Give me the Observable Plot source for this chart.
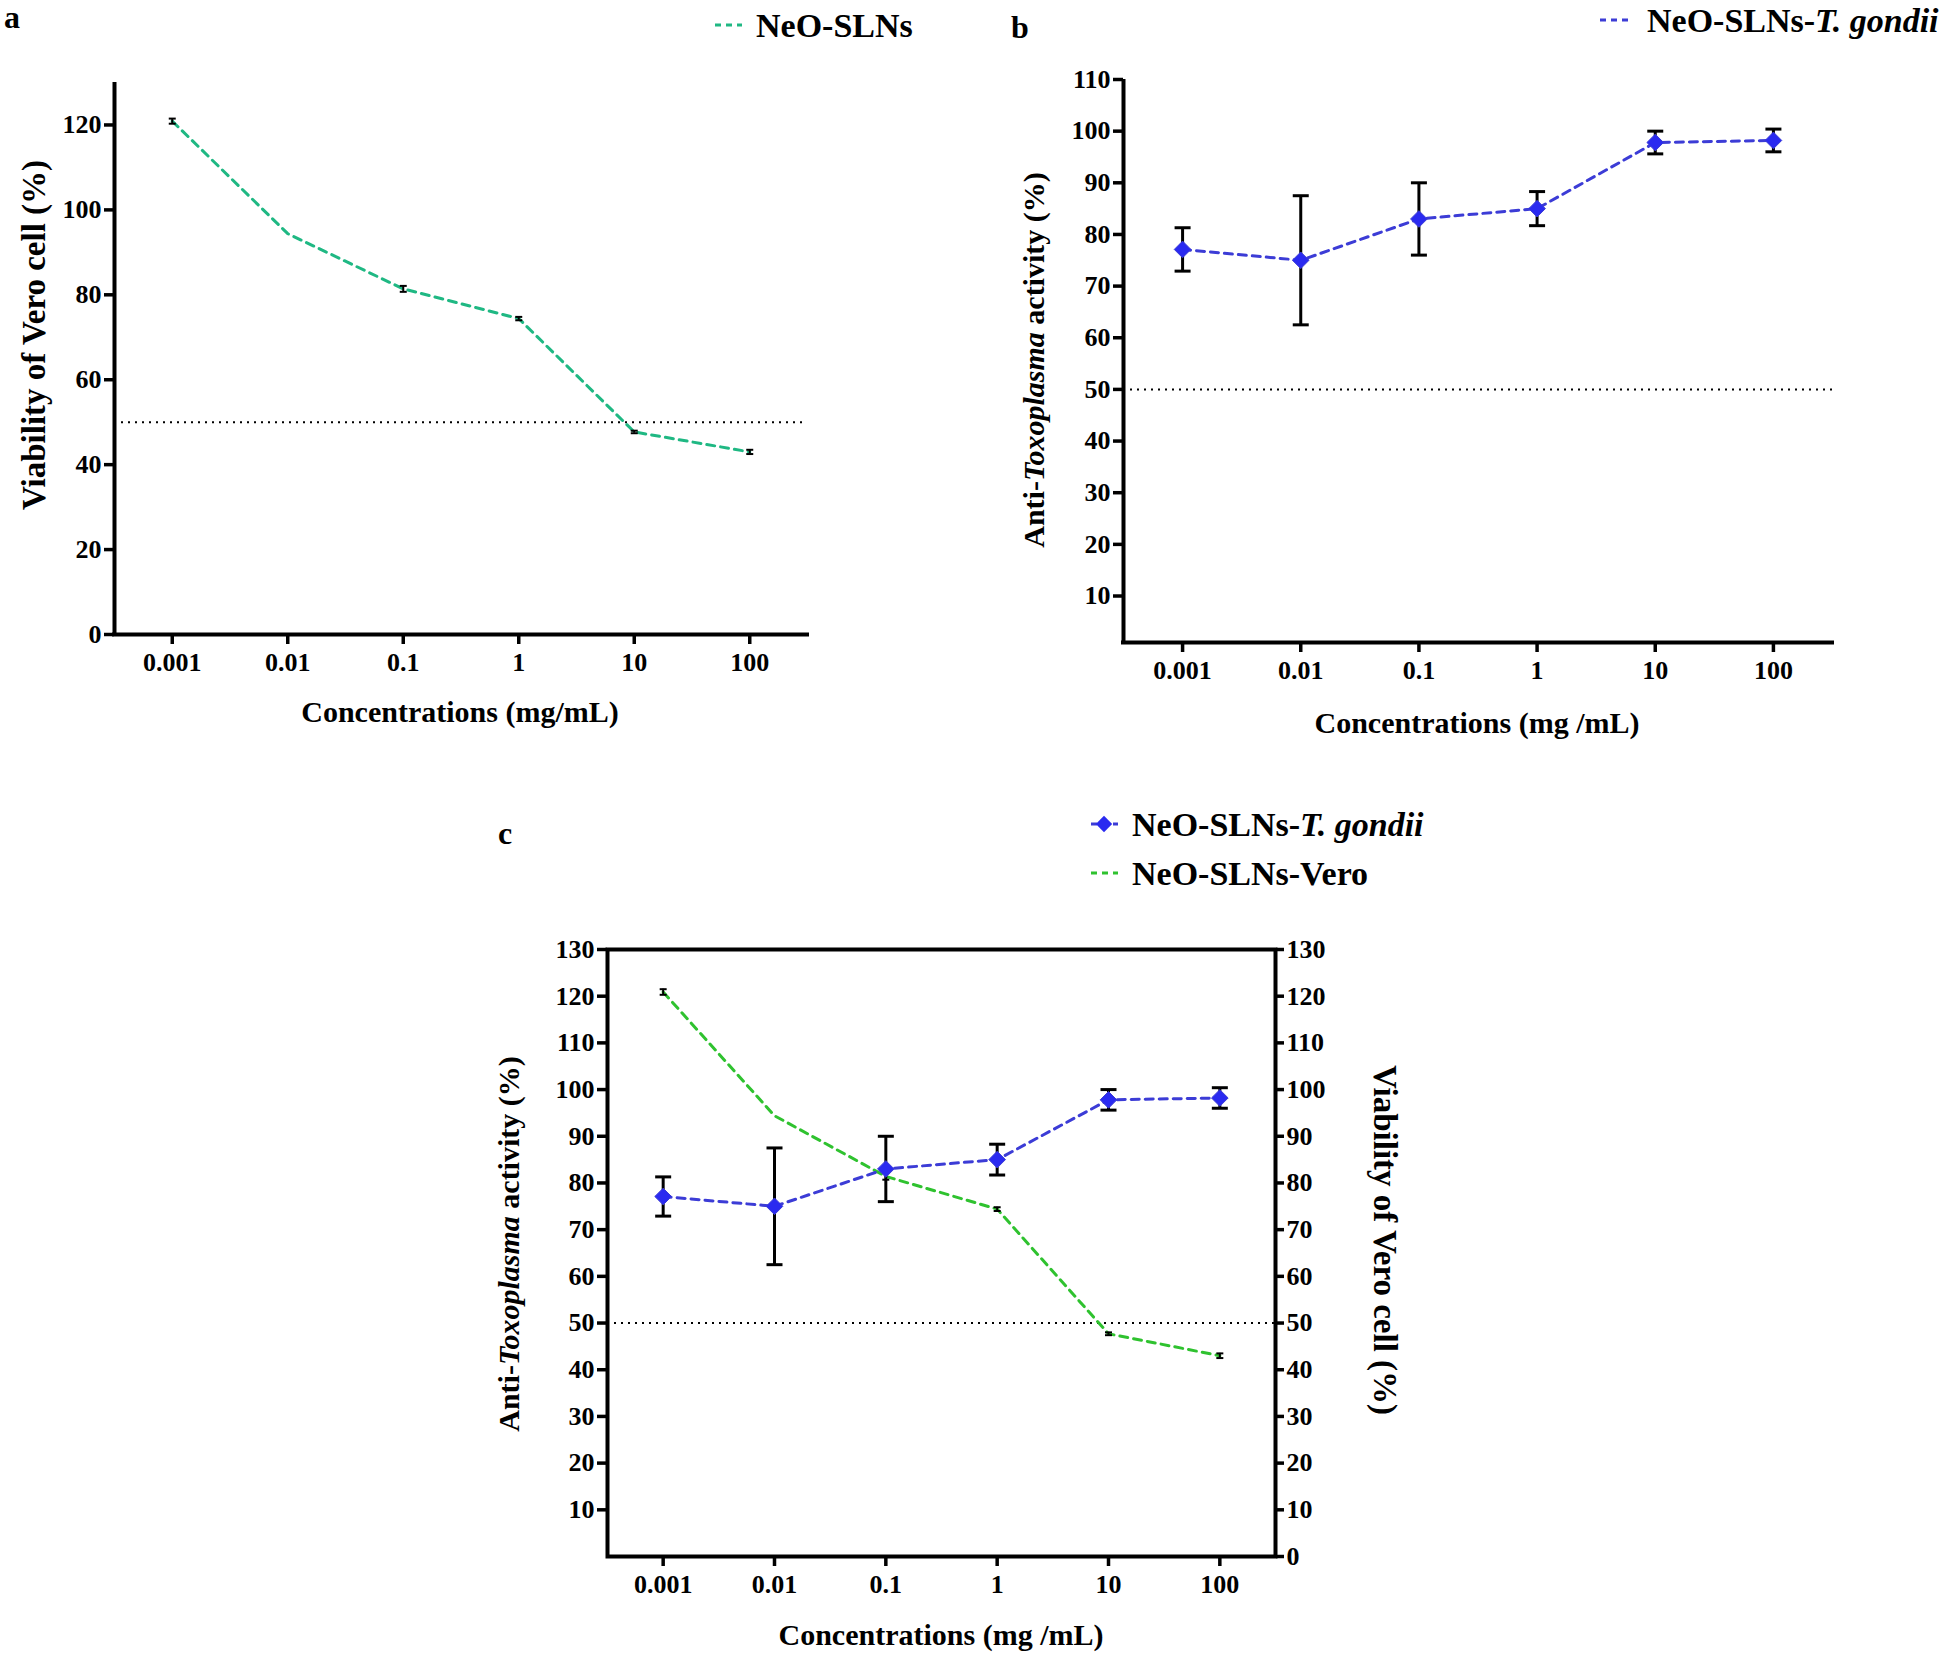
<!DOCTYPE html>
<html><head><meta charset="utf-8">
<script src="https://cdn.jsdelivr.net/npm/d3@7"></script>
<script src="https://cdn.jsdelivr.net/npm/@observablehq/plot@0.6"></script>
<style>
html,body{margin:0;padding:0;background:#fff;}
#root{position:relative;width:1944px;height:1656px;overflow:hidden;background:#fff;}
#root svg{position:absolute;left:0;top:0;}
</style></head><body><div id="root"></div>
<script>
// ---- data ----
const concentrations = [0.001, 0.01, 0.1, 1, 10, 100];
const concentrationLabels = ["0.001", "0.01", "0.1", "1", "10", "100"];
const veroViability = [120.9, 94.4, 81.4, 74.4, 47.7, 43.0];
const veroError = [0.6, 0, 0.7, 0.4, 0.3, 0.5];
const toxoActivity = [77.1, 75.0, 83.0, 85.0, 97.8, 98.2];
const toxoError = [4.2, 12.5, 7.0, 3.3, 2.2, 2.2];
const ticksA = [0, 20, 40, 60, 80, 100, 120];
const ticksB = [10, 20, 30, 40, 50, 60, 70, 80, 90, 100, 110];
const ticksCLeft = [10, 20, 30, 40, 50, 60, 70, 80, 90, 100, 110, 120, 130];
const ticksCRight = [0, 10, 20, 30, 40, 50, 60, 70, 80, 90, 100, 110, 120, 130];
const threshold = [50];
const xDomain = [Math.pow(10, -3.5), Math.pow(10, 2.5)];

const vero = concentrations.map((c, i) => ({conc: c, value: veroViability[i], err: veroError[i]}));
const toxo = concentrations.map((c, i) => ({conc: c, value: toxoActivity[i], err: toxoError[i]}));

const W = 1944, H = 1656;
const FONT = "Liberation Serif, Times New Roman, serif";
const TICK_FS = 26;
const capSymbol = {draw(ctx, size) { const w = Math.sqrt(size / Math.PI); ctx.moveTo(-w, 0); ctx.lineTo(w, 0); }};
const fmtX = d => concentrationLabels[concentrations.indexOf(d)];
const baseStyle = {fontFamily: FONT, fontWeight: "bold", color: "black", background: "transparent", maxWidth: "none", overflow: "visible"};

const GREEN_A = "#1fb883", GREEN_C = "#2fc22f", BLUE_LINE = "#3c3cd6", BLUE_DOT = "#2a2af0";

function xAxis() {
  return Plot.axisX({ticks: concentrations, tickFormat: fmtX, tickSize: 10, tickPadding: 8, strokeWidth: 3.5, fontSize: TICK_FS, label: null});
}
function errorMarks(rows, w, r) {
  const f = rows.filter(d => d.err > 0);
  return [
    Plot.ruleX(f, {x: "conc", y1: d => d.value - d.err, y2: d => d.value + d.err, stroke: "black", strokeWidth: w}),
    Plot.dot(f, {x: "conc", y: d => d.value + d.err, symbol: capSymbol, r, stroke: "black", strokeWidth: w, fill: "none"}),
    Plot.dot(f, {x: "conc", y: d => d.value - d.err, symbol: capSymbol, r, stroke: "black", strokeWidth: w, fill: "none"})
  ];
}

// ---- panel a ----
const plotA = Plot.plot({
  width: W, height: H,
  marginLeft: 114, marginRight: W - 807, marginTop: 82, marginBottom: H - 634,
  style: baseStyle,
  x: {type: "log", domain: xDomain},
  y: {domain: [0, 130]},
  marks: [
    Plot.ruleY(threshold, {stroke: "black", strokeWidth: 2, strokeDasharray: "2,5"}),
    Plot.line(vero, {x: "conc", y: "value", stroke: GREEN_A, strokeWidth: 3, strokeDasharray: "8,6"}),
    ...errorMarks(vero, 2, 3.5),
    Plot.ruleX([xDomain[0]], {stroke: "black", strokeWidth: 4}),
    Plot.ruleY([0], {stroke: "black", strokeWidth: 4, strokeLinecap: "square"}),
    Plot.axisY({ticks: ticksA, tickSize: 10, tickPadding: 3, strokeWidth: 3.5, fontSize: TICK_FS, label: null}),
    xAxis()
  ]
});

// ---- panel b ----
const plotB = Plot.plot({
  width: W, height: H,
  marginLeft: 1123, marginRight: W - 1832, marginTop: 79, marginBottom: H - 642,
  style: baseStyle,
  x: {type: "log", domain: xDomain},
  y: {domain: [1, 110]},
  marks: [
    Plot.ruleY(threshold, {stroke: "black", strokeWidth: 2, strokeDasharray: "2,5"}),
    Plot.line(toxo, {x: "conc", y: "value", stroke: BLUE_LINE, strokeWidth: 3, strokeDasharray: "8,6"}),
    ...errorMarks(toxo, 3, 8),
    Plot.dot(toxo, {x: "conc", y: "value", symbol: "diamond2", r: 7.5, fill: BLUE_DOT, stroke: BLUE_LINE, strokeWidth: 1}),
    Plot.ruleX([xDomain[0]], {stroke: "black", strokeWidth: 4}),
    Plot.ruleY([1], {stroke: "black", strokeWidth: 4, strokeLinecap: "square"}),
    Plot.axisY({ticks: ticksB, tickSize: 10, tickPadding: 3, strokeWidth: 3.5, fontSize: TICK_FS, label: null}),
    xAxis()
  ]
});

// ---- panel c ----
const plotC = Plot.plot({
  width: W, height: H,
  marginLeft: 607, marginRight: W - 1275, marginTop: 949, marginBottom: H - 1556,
  style: baseStyle,
  x: {type: "log", domain: xDomain},
  y: {domain: [0, 130]},
  marks: [
    Plot.ruleY(threshold, {stroke: "black", strokeWidth: 2, strokeDasharray: "2,5"}),
    Plot.line(vero, {x: "conc", y: "value", stroke: GREEN_C, strokeWidth: 3, strokeDasharray: "8,6"}),
    ...errorMarks(vero, 2, 3.5),
    Plot.line(toxo, {x: "conc", y: "value", stroke: BLUE_LINE, strokeWidth: 3, strokeDasharray: "8,6"}),
    ...errorMarks(toxo, 3, 8),
    Plot.dot(toxo, {x: "conc", y: "value", symbol: "diamond2", r: 7.5, fill: BLUE_DOT, stroke: BLUE_LINE, strokeWidth: 1}),
    Plot.frame({stroke: "black", strokeWidth: 4}),
    Plot.axisY({ticks: ticksCLeft, tickSize: 10, tickPadding: 3, strokeWidth: 3.5, fontSize: TICK_FS, label: null}),
    Plot.axisY({anchor: "right", ticks: ticksCRight, tickSize: 8, tickPadding: 3, strokeWidth: 3.5, fontSize: TICK_FS, label: null}),
    xAxis()
  ]
});

const root = document.getElementById("root");
[plotA, plotB, plotC].forEach(p => root.appendChild(p));

// ---- titles & legends ----
function addText(svg, x, y, parts, opts = {}) {
  const t = d3.select(svg).append("text")
    .attr("x", 0).attr("y", 0).attr("dy", "0.35em")
    .attr("transform", `translate(${x},${y})` + (opts.rotate ? ` rotate(${opts.rotate})` : ""))
    .attr("text-anchor", opts.anchor || "middle")
    .style("font-family", FONT).style("font-weight", "bold")
    .style("font-size", (opts.size || 30) + "px").attr("fill", "black");
  parts.forEach(p => {
    const s = typeof p === "string" ? {t: p} : p;
    t.append("tspan").text(s.t).style("font-style", s.i ? "italic" : "normal");
  });
  return t;
}
function legendLine(svg, x1, x2, y, color) {
  d3.select(svg).append("line").attr("x1", x1).attr("x2", x2).attr("y1", y).attr("y2", y)
    .attr("stroke", color).attr("stroke-width", 3).attr("stroke-dasharray", "6,5");
}

// panel a
addText(plotA, 4, 17, ["a"], {anchor: "start", size: 32});
addText(plotA, 33, 335, ["Viability of Vero cell (%)"], {rotate: -90, size: 33});
addText(plotA, 460, 711, ["Concentrations (mg/mL)"], {size: 30});
legendLine(plotA, 715, 742, 25, GREEN_A);
addText(plotA, 756, 25, ["NeO-SLNs"], {anchor: "start", size: 34});

// panel b
addText(plotB, 1011, 27, ["b"], {anchor: "start", size: 32});
addText(plotB, 1033, 360, ["Anti-", {t: "Toxoplasma", i: true}, " activity (%)"], {rotate: -90, size: 30});
addText(plotB, 1477, 722, ["Concentrations (mg /mL)"], {size: 30});
legendLine(plotB, 1600, 1633, 20, BLUE_LINE);
addText(plotB, 1647, 20, ["NeO-SLNs-", {t: "T. gondii", i: true}], {anchor: "start", size: 34});

// panel c
addText(plotC, 498, 833, ["c"], {anchor: "start", size: 32});
addText(plotC, 508, 1244, ["Anti-", {t: "Toxoplasma", i: true}, " activity (%)"], {rotate: -90, size: 30});
addText(plotC, 1386, 1240, ["Viability of Vero cell (%)"], {rotate: 90, size: 33});
addText(plotC, 941, 1634, ["Concentrations (mg /mL)"], {size: 30});
legendLine(plotC, 1091, 1118, 824, BLUE_LINE);
d3.select(plotC).append("path")
  .attr("d", d3.symbol(d3.symbolDiamond2, 170)())
  .attr("transform", "translate(1104,824)").attr("fill", BLUE_DOT);
addText(plotC, 1132, 824, ["NeO-SLNs-", {t: "T. gondii", i: true}], {anchor: "start", size: 34});
legendLine(plotC, 1091, 1118, 873, GREEN_C);
addText(plotC, 1132, 873, ["NeO-SLNs-Vero"], {anchor: "start", size: 34});
</script></body></html>
